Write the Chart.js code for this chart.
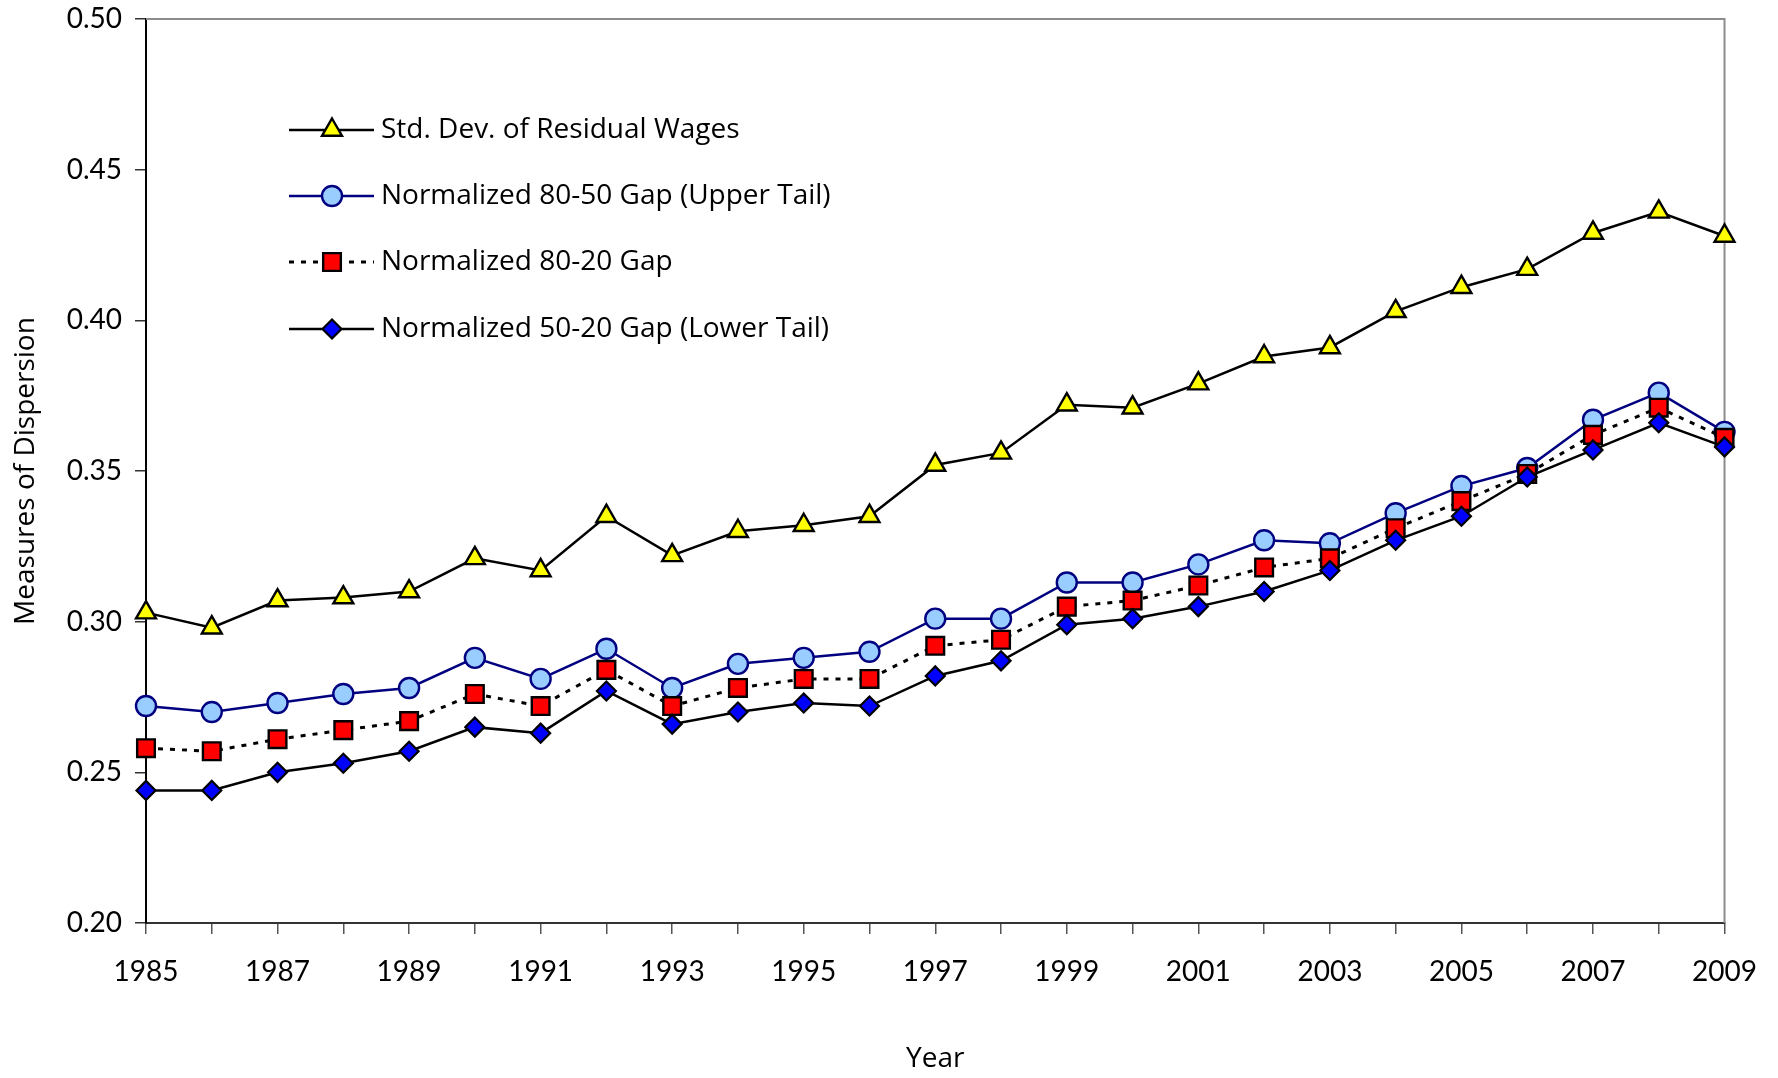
<!DOCTYPE html>
<html>
<head>
<meta charset="utf-8">
<script src="https://cdn.jsdelivr.net/npm/chart.js@4.4.1/dist/chart.umd.min.js"></script>
<style>
  html, body { margin: 0; padding: 0; background: #fff; }
  #wrap { width: 1778px; height: 1078px; }
</style>
</head>
<body>
<div id="wrap"><canvas id="chart-section" width="1778" height="1078"></canvas></div>
<script>
const years = ['1985','1986','1987','1988','1989','1990','1991','1992','1993','1994','1995','1996','1997',
               '1998','1999','2000','2001','2002','2003','2004','2005','2006','2007','2008','2009'];

const stdDevResidual = [0.303, 0.298, 0.307, 0.308, 0.310, 0.321, 0.317, 0.335, 0.322, 0.330, 0.332, 0.335, 0.352,
                        0.356, 0.372, 0.371, 0.379, 0.388, 0.391, 0.403, 0.411, 0.417, 0.429, 0.436, 0.428];
const gap8050 = [0.272, 0.270, 0.273, 0.276, 0.278, 0.288, 0.281, 0.291, 0.278, 0.286, 0.288, 0.290, 0.301,
                 0.301, 0.313, 0.313, 0.319, 0.327, 0.326, 0.336, 0.345, 0.351, 0.367, 0.376, 0.363];
const gap8020 = [0.258, 0.257, 0.261, 0.264, 0.267, 0.276, 0.272, 0.284, 0.272, 0.278, 0.281, 0.281, 0.292,
                 0.294, 0.305, 0.307, 0.312, 0.318, 0.321, 0.331, 0.340, 0.349, 0.362, 0.371, 0.361];
const gap5020 = [0.244, 0.244, 0.250, 0.253, 0.257, 0.265, 0.263, 0.277, 0.266, 0.270, 0.273, 0.272, 0.282,
                 0.287, 0.299, 0.301, 0.305, 0.310, 0.317, 0.327, 0.335, 0.348, 0.357, 0.366, 0.358];

const seriesNames = ['Std. Dev. of Residual Wages', 'Normalized 80-50 Gap (Upper Tail)',
                     'Normalized 80-20 Gap', 'Normalized 50-20 Gap (Lower Tail)'];
const yTicks = [0.20, 0.25, 0.30, 0.35, 0.40, 0.45, 0.50];

const tickFont = { family: 'Lato', size: 28 };
const textFont = { family: 'Open Sans', size: 28 };

// legend drawn inside the plot, top left
const insideLegend = {
  id: 'insideLegend',
  afterDatasetsDraw(chart) {
    const ctx = chart.ctx;
    const x0 = 289, x1 = 374, xm = 332, tx = 381;
    const rows = [130, 196, 262, 329];
    ctx.save();
    chart.data.datasets.forEach((ds, i) => {
      const y = rows[i];
      ctx.beginPath();
      ctx.setLineDash(ds.borderDash || []);
      ctx.strokeStyle = ds.borderColor;
      ctx.lineWidth = ds.borderWidth;
      ctx.moveTo(x0, y);
      ctx.lineTo(x1, y);
      ctx.stroke();
      ctx.setLineDash([]);
      ctx.fillStyle = ds.pointBackgroundColor;
      ctx.strokeStyle = ds.pointBorderColor;
      ctx.lineWidth = ds.pointBorderWidth;
      Chart.helpers.drawPoint(ctx, { pointStyle: ds.pointStyle, radius: ds.pointRadius, rotation: 0, borderWidth: ds.pointBorderWidth }, xm, y);
      ctx.fillStyle = '#000';
      ctx.font = textFont.size + 'px "' + textFont.family + '"';
      ctx.textAlign = 'left';
      ctx.textBaseline = 'middle';
      ctx.fillText(ds.label, tx, y);
    });
    ctx.restore();
  }
};

// grey top and right edges of the plot area
const plotFrame = {
  id: 'plotFrame',
  beforeDatasetsDraw(chart) {
    const { ctx, chartArea: a } = chart;
    ctx.save();
    ctx.strokeStyle = '#8c8c8c';
    ctx.lineWidth = 2;
    ctx.beginPath();
    ctx.moveTo(a.left, a.top);
    ctx.lineTo(a.right, a.top);
    ctx.lineTo(a.right, a.bottom);
    ctx.stroke();
    ctx.restore();
  }
};

new Chart(document.getElementById('chart-section'), {
  type: 'line',
  data: {
    labels: years,
    datasets: [
      {
        label: seriesNames[0], data: stdDevResidual, order: 4,
        borderColor: '#000', borderWidth: 2.5,
        pointStyle: 'triangle', pointRadius: 11.5, pointBackgroundColor: '#ffff00',
        pointBorderColor: '#000', pointBorderWidth: 2.4
      },
      {
        label: seriesNames[1], data: gap8050, order: 3,
        borderColor: '#000080', borderWidth: 2.5,
        pointStyle: 'circle', pointRadius: 10, pointBackgroundColor: '#99ccff',
        pointBorderColor: '#000080', pointBorderWidth: 2.4
      },
      {
        label: seriesNames[2], data: gap8020, order: 2,
        borderColor: '#000', borderWidth: 3, borderDash: [5, 7],
        pointStyle: 'rect', pointRadius: 12.5, pointBackgroundColor: '#ff0000',
        pointBorderColor: '#000', pointBorderWidth: 2.4
      },
      {
        label: seriesNames[3], data: gap5020, order: 1,
        borderColor: '#000', borderWidth: 2.5,
        pointStyle: 'rectRot', pointRadius: 9.5, pointBackgroundColor: '#0000ff',
        pointBorderColor: '#000', pointBorderWidth: 2.2
      }
    ]
  },
  options: {
    responsive: false,
    animation: false,
    devicePixelRatio: 1,
    layout: { padding: { top: 19, right: 52, left: 0, bottom: 0 } },
    elements: { line: { tension: 0 } },
    plugins: {
      legend: { display: false },
      tooltip: { enabled: false }
    },
    scales: {
      x: {
        offset: false,
        afterFit(scale) { scale.height = 155; },
        grid: { display: true, drawOnChartArea: false, drawTicks: true, tickLength: 11, color: '#555', lineWidth: 1.5 },
        border: { display: true, color: '#333', width: 2 },
        ticks: {
          autoSkip: false, maxRotation: 0, padding: 21, color: '#000', font: tickFont,
          callback: (v, i) => (i % 2 === 0 ? years[i] : '')
        },
        title: { display: true, text: 'Year', color: '#000', font: textFont, padding: { top: 0, bottom: 2 } }
      },
      y: {
        min: 0.2, max: 0.5,
        afterFit(scale) { scale.width = 146; scale.paddingTop = 0; scale.paddingBottom = 0; },
        afterBuildTicks(scale) { scale.ticks = yTicks.map(v => ({ value: v })); },
        grid: { display: true, drawOnChartArea: false, drawTicks: true, tickLength: 11, color: '#333', lineWidth: 1.5 },
        border: { display: true, color: '#000', width: 2 },
        ticks: { padding: 13, color: '#000', font: tickFont, callback: v => v.toFixed(2) },
        title: { display: true, text: 'Measures of Dispersion', color: '#000', font: textFont, padding: { top: 9, bottom: 0 } }
      }
    }
  },
  plugins: [plotFrame, insideLegend]
});
</script>
</body>
</html>
